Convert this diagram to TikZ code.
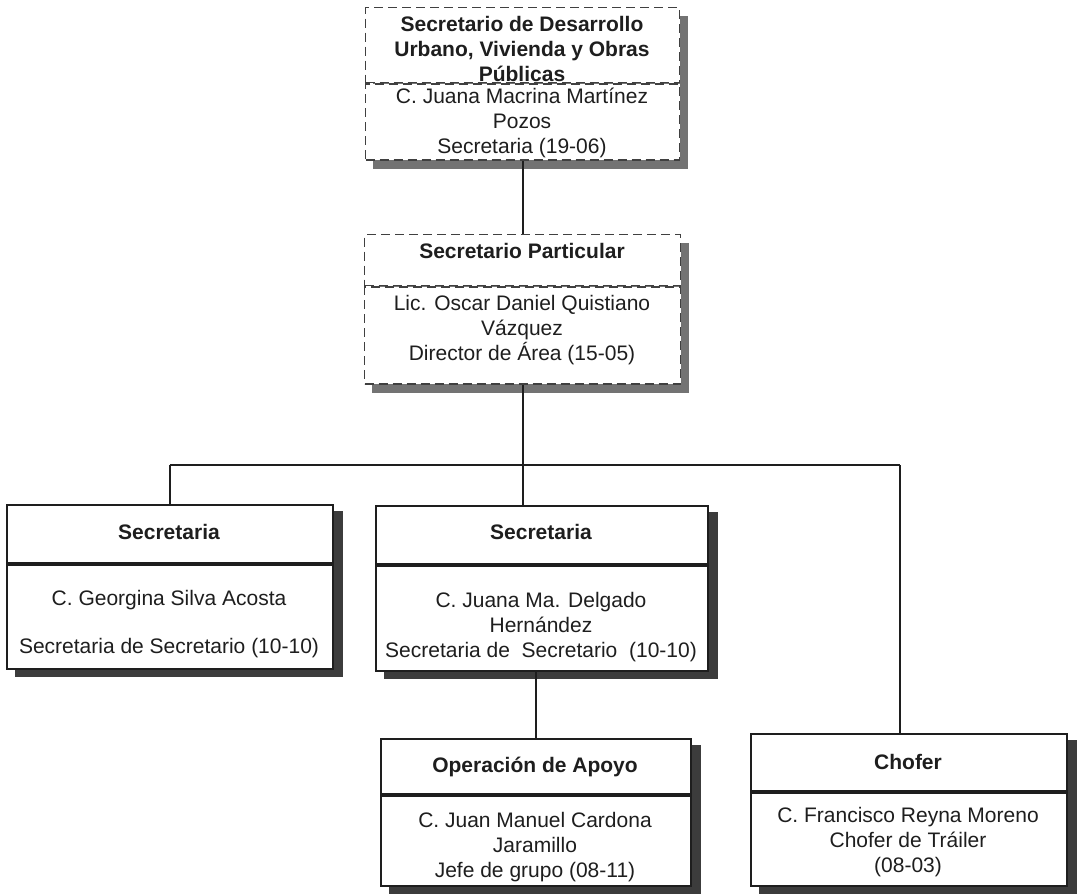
\documentclass[tikz,border=0pt]{standalone}
\usepackage{fontspec}
\setmainfont{Liberation Sans}
\usetikzlibrary{calc,backgrounds}

\definecolor{inkgray}{RGB}{30,30,30}
\definecolor{shadelight}{RGB}{115,115,115}
\definecolor{shadedark}{RGB}{60,60,60}

\begin{document}
\begin{tikzpicture}[x=1pt,y=-1pt,
  font=\fontsize{21}{25}\selectfont,
  part/.style={fill=white,inner sep=0pt,anchor=north west},
  dashpart/.style={part,draw=inkgray!85,line width=1.4pt,dash pattern=on 9pt off 5pt},
  solidpart/.style={part,draw=inkgray,line width=1.8pt},
  ttl/.style={text=inkgray,font=\fontsize{21}{25}\selectfont\bfseries,align=center},
  txt/.style={text=inkgray,align=center},
  link/.style={draw=inkgray,line width=1.7pt}]
\useasboundingbox (0,0) rectangle (1078,894);

\node[dashpart,minimum width=314pt,minimum height=75pt] (dir-h) at (365,7) {};
\node[dashpart,minimum width=314pt,minimum height=76pt] (dir-b) at (dir-h.south west) {};

\node[dashpart,minimum width=316pt,minimum height=51pt] (priv-h) at (364,234) {};
\node[dashpart,minimum width=316pt,minimum height=97pt] (priv-b) at (priv-h.south west) {};

\node[solidpart,minimum width=326pt,minimum height=58pt] (secA-h) at (6,504) {};
\node[solidpart,minimum width=326pt,minimum height=104pt] (secA-b) at (secA-h.south west) {};

\node[solidpart,minimum width=332pt,minimum height=58pt] (secB-h) at (375,505) {};
\node[solidpart,minimum width=332pt,minimum height=105pt] (secB-b) at (secB-h.south west) {};

\node[solidpart,minimum width=310pt,minimum height=55pt] (apoyo-h) at (380,738) {};
\node[solidpart,minimum width=310pt,minimum height=90pt] (apoyo-b) at (apoyo-h.south west) {};

\node[solidpart,minimum width=316pt,minimum height=57pt] (chofer-h) at (750,733) {};
\node[solidpart,minimum width=316pt,minimum height=93pt] (chofer-b) at (chofer-h.south west) {};

\node[ttl] (dir-ht) at (522,49) {Secretario de Desarrollo\\Urbano, Vivienda y Obras\\Públicas};
\node[txt] (dir-bt) at (522,123) {C. Juana Macrina Martínez\\Pozos\\Secretaria (19-06)};

\node[ttl] (priv-ht) at (522,251) {Secretario Particular};
\node[txt] (priv-bt) at (522,330) {Lic. Oscar Daniel Quistiano\\Vázquez\\Director de Área (15-05)};

\node[ttl] (secA-ht) at (169,532) {Secretaria};
\node[txt] (secA-bt) at (169,624) {C. Georgina Silva Acosta\\[23pt]Secretaria de Secretario (10-10)};

\node[ttl] (secB-ht) at (541,532) {Secretaria};
\node[txt] (secB-bt) at (541,627) {C. Juana Ma. Delgado\\Hernández\\Secretaria de\ \ Secretario\ \ (10-10)};

\node[ttl] (apoyo-ht) at (535,767) {Operación de Apoyo};
\node[txt] (apoyo-bt) at (535,847) {C. Juan Manuel Cardona\\Jaramillo\\Jefe de grupo (08-11)};

\node[ttl] (chofer-ht) at (908,762) {Chofer};
\node[txt] (chofer-bt) at (908,842) {C. Francisco Reyna Moreno\\Chofer de Tráiler\\(08-03)};

\coordinate (busL) at (secA-h.north |- 0,465);
\coordinate (busR) at (900,465);

\begin{scope}[on background layer]
\foreach \b in {dir,priv}
  \fill[shadelight] ($(\b-h.north west)+(8,9)$) rectangle ($(\b-b.south east)+(8,8)$);
\foreach \b in {secA,secB,apoyo,chofer}
  \fill[shadedark] ($(\b-h.north west)+(9,7)$) rectangle ($(\b-b.south east)+(9,7)$);
\draw[link] (dir-b.south) -- (priv-h.north);
\draw[link] (priv-b.south) -- (priv-b.south |- secB-h.north);
\draw[link] (busL) -- (busR);
\draw[link] (busL) -- (secA-h.north);
\draw[link] (busR) -- (busR |- chofer-h.north);
\draw[link] (apoyo-h.north |- secB-b.south) -- (apoyo-h.north);
\end{scope}
\end{tikzpicture}
\end{document}
